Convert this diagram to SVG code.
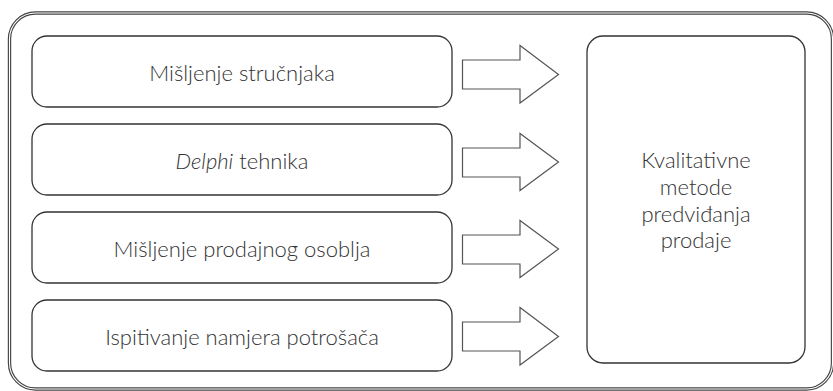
<svg xmlns="http://www.w3.org/2000/svg" width="833" height="391" viewBox="0 0 833 391">
<style>
.box{fill:#fff;stroke:#333;stroke-width:1.3}
.arrow{fill:#fff;stroke:#555;stroke-width:1.2;stroke-linejoin:miter}
.t{font-family:Lato,"Liberation Sans",sans-serif;font-weight:300;font-size:22px;fill:#333;text-anchor:middle}
</style>
<rect width="833" height="391" fill="#fff"/>
<g id="frame">
<rect x="9.5" y="13" width="823" height="376" rx="26" fill="none" stroke="#444" stroke-width="3.4"/>
<rect x="9.5" y="13" width="823" height="376" rx="26" fill="none" stroke="#fff" stroke-width="1.1"/>
</g>
<g id="n1"><rect class="box" x="32" y="36" width="420" height="71" rx="15"/><text class="t" x="242" y="81">Mišljenje stručnjaka</text></g>
<g id="n2"><rect class="box" x="32" y="124" width="420" height="71" rx="15"/><text class="t" x="242" y="169"><tspan font-style="italic">Delphi</tspan> tehnika</text></g>
<g id="n3"><rect class="box" x="32" y="212" width="420" height="71" rx="15"/><text class="t" x="242" y="257">Mišljenje prodajnog osoblja</text></g>
<g id="n4"><rect class="box" x="32" y="300" width="420" height="71" rx="15"/><text class="t" x="242" y="345">Ispitivanje namjera potrošača</text></g>
<g id="n5"><rect class="box" x="587" y="36" width="218" height="327" rx="16"/>
<text class="t" x="696" y="168">Kvalitativne</text>
<text class="t" x="696" y="195">metode</text>
<text class="t" x="696" y="222">predviđanja</text>
<text class="t" x="696" y="248">prodaje</text></g>
<g id="connectors">
<path class="arrow" d="M462.5 60 H520 V45.5 L558.5 74.5 L520 103 V89 H462.5 Z"/>
<path class="arrow" d="M462.5 148 H520 V133.5 L558.5 162 L520 190.5 V177 H462.5 Z"/>
<path class="arrow" d="M462.5 235 H520 V220.5 L558.5 249 L520 277.5 V264 H462.5 Z"/>
<path class="arrow" d="M462.5 322 H520 V307.5 L558.5 336.5 L520 365 V351 H462.5 Z"/>
</g>
</svg>
